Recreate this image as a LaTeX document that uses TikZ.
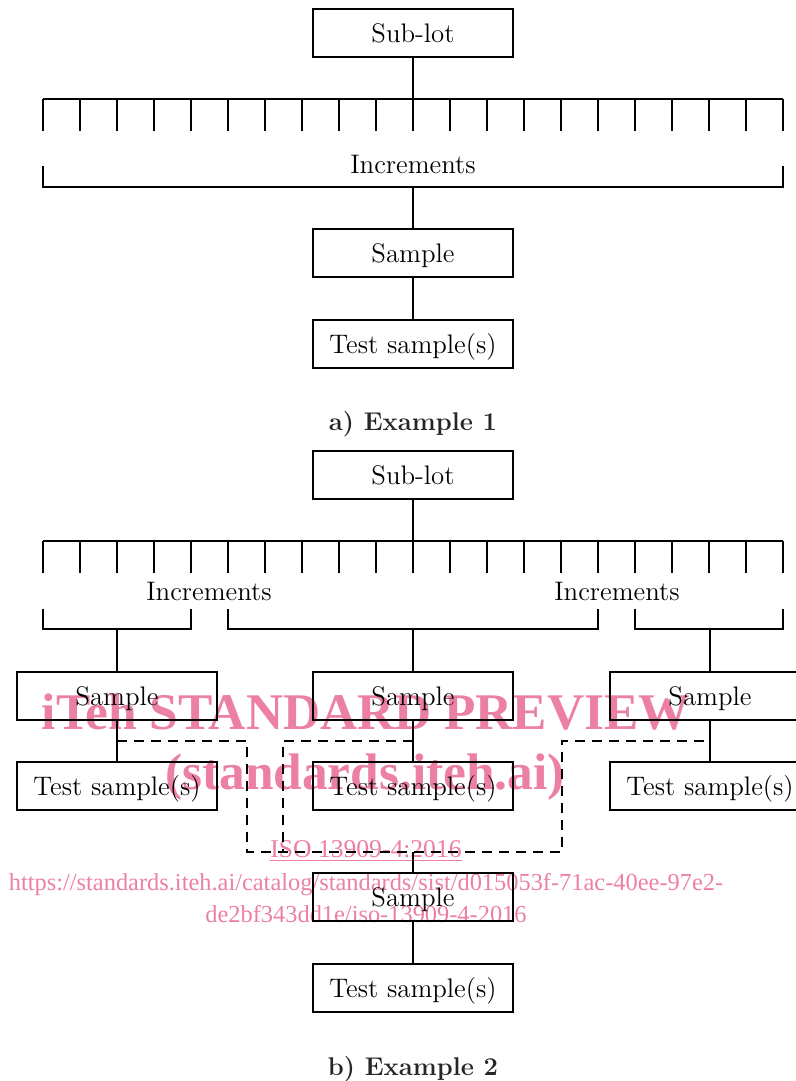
\documentclass[tikz,border=0pt]{standalone}
\usepackage{fontspec}
\newfontfamily\wmfont{Liberation Serif}
\usetikzlibrary{positioning}
\definecolor{wmpink}{RGB}{236,128,164}
\tikzset{
    stepBox/.style={draw, line width=1.2pt, minimum width=100pt, minimum height=24pt,
        inner sep=0pt, text height=9.15pt, text depth=0pt, font=\fontsize{13.4}{16}\selectfont},
    incLabel/.style={inner sep=0pt, text height=9.15pt, text depth=0pt, font=\fontsize{13.4}{16}\selectfont},
    caption/.style={inner sep=0pt, text height=8.8pt, text depth=0pt, text=black!85,
        font=\fontsize{12.8}{15}\selectfont\bfseries},
    link/.style={line width=0.6pt},
    dashLink/.style={line width=0.6pt, dash pattern=on 5pt off 3.5pt},
    watermark/.style={inner sep=0pt, anchor=base, text=wmpink}
}
\tikzset{
    comb/.pic={
        \draw[link] (0,0) -- (740,0);
        \foreach \k in {0,...,20}
            \draw[link] (37*\k,0) -- (37*\k,32);
    }
}
\begin{document}
\begin{tikzpicture}[x=0.5pt, y=-0.5pt]
    \useasboundingbox (0,0) rectangle (796,1081);
    \clip (0,0) rectangle (796,1081);
    % watermark
    \node[watermark, font=\wmfont\bfseries\fontsize{25.7}{30}\selectfont] (wmTitle) at (366,729) {iTeh STANDARD PREVIEW};
    \node[watermark, font=\wmfont\bfseries\fontsize{25.7}{30}\selectfont] (wmSite) at (365,789) {(standards.iteh.ai)};
    \node[watermark, font=\wmfont\fontsize{12.8}{15}\selectfont] (wmIso) at (366,857) {\underline{ISO 13909-4:2016}};
    \node[watermark, font=\wmfont\fontsize{12.2}{15}\selectfont] (wmUrlA) at (366,890) {https://standards.iteh.ai/catalog/standards/sist/d015053f-71ac-40ee-97e2-};
    \node[watermark, font=\wmfont\fontsize{12.2}{15}\selectfont] (wmUrlB) at (366,922) {de2bf343dd1e/iso-13909-4-2016};

    % a) Example 1
    \node[stepBox] (sublotA) at (413,33) {Sub-lot};
    \pic at (43,99) {comb};
    \coordinate (combA) at (413,99);
    \node[incLabel] (incA) at (413,164) {Increments};
    \draw[link] (43,166) |- (783,187) -- (783,166);
    \coordinate (stemA) at (413,187);
    \node[stepBox] (sampleA) at (413,253) {Sample};
    \node[stepBox] (testA) at (413,344) {Test sample(s)};
    \draw[link] (sublotA) -- (combA);
    \draw[link] (stemA) -- (sampleA);
    \draw[link] (sampleA) -- (testA);
    \node[caption] (capA) at (413,422) {a) Example 1};

    % b) Example 2
    \node[stepBox] (sublotB) at (413,475) {Sub-lot};
    \pic at (43,541) {comb};
    \coordinate (combB) at (413,541);
    \node[incLabel] (incL) at (209,591) {Increments};
    \node[incLabel] (incR) at (617,591) {Increments};
    \draw[link] (43,609) |- (191,629) -- (191,609);
    \draw[link] (228,609) |- (598,629) -- (598,609);
    \draw[link] (635,609) |- (783,629) -- (783,609);
    \coordinate (stemL) at (117,629);
    \coordinate (stemM) at (413,629);
    \coordinate (stemR) at (710,629);
    \node[stepBox] (sampleL) at (117,696) {Sample};
    \node[stepBox] (sampleM) at (413,696) {Sample};
    \node[stepBox] (sampleR) at (710,696) {Sample};
    \node[stepBox] (testL) at (117,786) {Test sample(s)};
    \node[stepBox] (testM) at (413,786) {Test sample(s)};
    \node[stepBox] (testR) at (710,786) {Test sample(s)};
    \draw[link] (sublotB) -- (combB);
    \draw[link] (stemL) -- (sampleL);
    \draw[link] (stemM) -- (sampleM);
    \draw[link] (stemR) -- (sampleR);
    \draw[link] (sampleL) -- (testL);
    \draw[link] (sampleM) -- (testM);
    \draw[link] (sampleR) -- (testR);
    % combined sample
    \coordinate (tapL) at (117,741);
    \coordinate (tapM) at (413,741);
    \coordinate (tapR) at (710,741);
    \coordinate (turnL) at (247,852);
    \coordinate (turnM) at (283,852);
    \coordinate (turnR) at (562,741);
    \coordinate (merge) at (413,852);
    \draw[dashLink] (tapL) -| (turnL) -| (turnR) -- (tapR);
    \draw[dashLink] (tapM) -| (turnM);
    \node[stepBox] (sampleC) at (413,897) {Sample};
    \node[stepBox] (testC) at (413,988) {Test sample(s)};
    \draw[link] (merge) -- (sampleC);
    \draw[link] (sampleC) -- (testC);
    \node[caption] (capB) at (413,1067) {b) Example 2};
\end{tikzpicture}
\end{document}
